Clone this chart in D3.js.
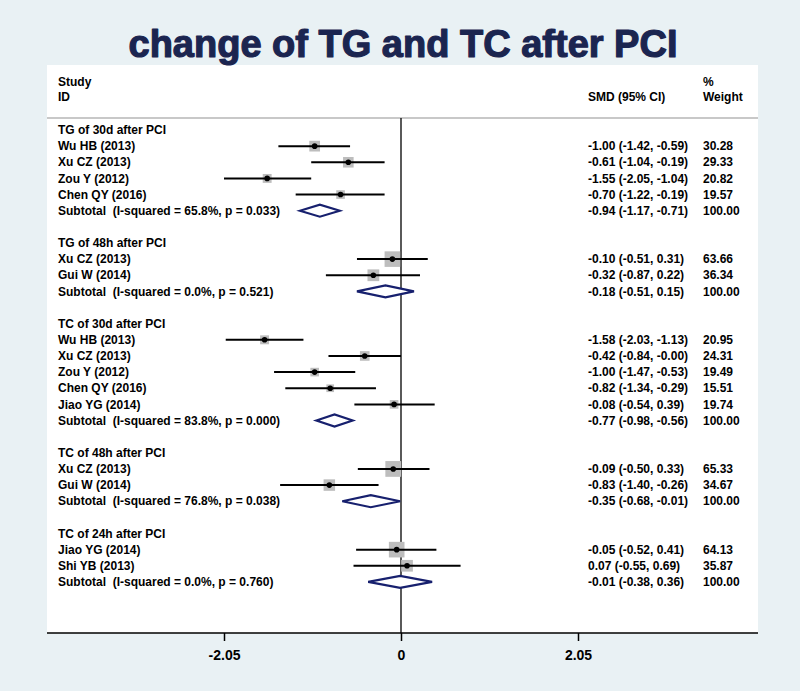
<!DOCTYPE html>
<html>
<head>
<meta charset="utf-8">
<script src="https://cdn.jsdelivr.net/npm/d3@7"></script>
<style>
  html, body { margin: 0; padding: 0; background: #e9f1f4; }
  svg { display: block; }
  text { font-family: "Liberation Sans", Arial, sans-serif; font-weight: bold; white-space: pre; }
</style>
</head>
<body>
<svg id="chart" width="800" height="691"></svg>
<script>
// ---------------- DATA ----------------
const title = "change of TG and TC after PCI";
const groupNames = ["TG of 30d after PCI", "TG of 48h after PCI", "TC of 30d after PCI", "TC of 48h after PCI", "TC of 24h after PCI"];

const studyGroup  = [0, 0, 0, 0, 1, 1, 2, 2, 2, 2, 2, 3, 3, 4, 4];
const studyNames  = ["Wu HB (2013)", "Xu CZ (2013)", "Zou Y (2012)", "Chen QY (2016)",
                     "Xu CZ (2013)", "Gui W (2014)",
                     "Wu HB (2013)", "Xu CZ (2013)", "Zou Y (2012)", "Chen QY (2016)", "Jiao YG (2014)",
                     "Xu CZ (2013)", "Gui W (2014)",
                     "Jiao YG (2014)", "Shi YB (2013)"];
const studySMD    = [-1.00, -0.61, -1.55, -0.70, -0.10, -0.32, -1.58, -0.42, -1.00, -0.82, -0.08, -0.09, -0.83, -0.05, 0.07];
const studyLow    = [-1.42, -1.04, -2.05, -1.22, -0.51, -0.87, -2.03, -0.84, -1.47, -1.34, -0.54, -0.50, -1.40, -0.52, -0.55];
const studyHigh   = [-0.59, -0.19, -1.04, -0.19, 0.31, 0.22, -1.13, -0.00, -0.53, -0.29, 0.39, 0.33, -0.26, 0.41, 0.69];
const studyWeight = [30.28, 29.33, 20.82, 19.57, 63.66, 36.34, 20.95, 24.31, 19.49, 15.51, 19.74, 65.33, 34.67, 64.13, 35.87];

const subI2   = ["65.8%", "0.0%", "83.8%", "76.8%", "0.0%"];
const subP    = ["0.033", "0.521", "0.000", "0.038", "0.760"];
const subSMD  = [-0.94, -0.18, -0.77, -0.35, -0.01];
const subLow  = [-1.17, -0.51, -0.98, -0.68, -0.38];
const subHigh = [-0.71, 0.15, -0.56, -0.01, 0.36];
const subWeight = [100.00, 100.00, 100.00, 100.00, 100.00];

const tickValues = [-2.05, 0, 2.05];
const tickLabels = ["-2.05", "0", "2.05"];

// ---------------- LAYOUT ----------------
const W = 800, H = 691;
const panel = {left: 47, right: 758, top: 65, bottom: 633};
const headerLine = 118;
const textX = 58, ciX = 588, wX = 703;
const row0 = 130, rowStep = 16.14;

const svg = d3.select("#chart");
svg.append("rect").attr("width", W).attr("height", H).attr("fill", "#e9f1f4");
svg.append("rect").attr("x", panel.left).attr("y", panel.top)
  .attr("width", panel.right - panel.left).attr("height", panel.bottom - panel.top)
  .attr("fill", "#ffffff");

svg.append("text").attr("x", 403).attr("y", 57).attr("text-anchor", "middle")
  .attr("font-size", 38).attr("fill", "#1b2550")
  .attr("stroke", "#1b2550").attr("stroke-width", 1.2).attr("stroke-linejoin", "round")
  .text(title);

// Build rows list
const rows = [];
groupNames.forEach((g, gi) => {
  rows.push({type: "group", label: g});
  studyGroup.forEach((sg, i) => {
    if (sg === gi) rows.push({type: "study", label: studyNames[i], est: studySMD[i], lo: studyLow[i], hi: studyHigh[i], w: studyWeight[i]});
  });
  rows.push({type: "sub", label: `Subtotal  (I-squared = ${subI2[gi]}, p = ${subP[gi]})`,
             est: subSMD[gi], lo: subLow[gi], hi: subHigh[gi], w: subWeight[gi]});
  if (gi < groupNames.length - 1) rows.push({type: "blank"});
});

const x = d3.scaleLinear().domain([-4.1, 4.1]).range([panel.left, panel.left + 708]);
const y = d3.scaleLinear().domain([0, 1]).range([row0, row0 + rowStep]);

const fmt = v => ((v < 0 || Object.is(v, -0)) ? "-" : "") + Math.abs(v).toFixed(2);

// Header
const fs = 12;
svg.append("text").attr("x", textX).attr("y", 81.5).attr("dy", "0.35em").attr("font-size", fs).text("Study");
svg.append("text").attr("x", textX).attr("y", 97).attr("dy", "0.35em").attr("font-size", fs).text("ID");
svg.append("text").attr("x", ciX).attr("y", 97).attr("dy", "0.35em").attr("font-size", fs).text("SMD (95% CI)");
svg.append("text").attr("x", wX).attr("y", 81.5).attr("dy", "0.35em").attr("font-size", fs).text("%");
svg.append("text").attr("x", wX).attr("y", 97).attr("dy", "0.35em").attr("font-size", fs).text("Weight");

svg.append("line").attr("x1", panel.left).attr("x2", panel.right)
  .attr("y1", headerLine).attr("y2", headerLine).attr("stroke", "#c8c8c8").attr("stroke-width", 2);

// Zero line
svg.append("line").attr("x1", x(0)).attr("x2", x(0)).attr("y1", headerLine).attr("y2", panel.bottom)
  .attr("stroke", "#000").attr("stroke-width", 1.3);

const g = svg.append("g");
rows.forEach((r, i) => {
  const yy = y(i);
  if (r.type === "blank") return;
  g.append("text").attr("x", textX).attr("y", yy).attr("dy", "0.35em").attr("font-size", fs)
    .attr("xml:space", "preserve").text(r.label);
  if (r.type === "group") return;
  g.append("text").attr("x", ciX).attr("y", yy).attr("dy", "0.35em").attr("font-size", fs)
    .text(`${fmt(r.est)} (${fmt(r.lo)}, ${fmt(r.hi)})`);
  g.append("text").attr("x", wX).attr("y", yy).attr("dy", "0.35em").attr("font-size", fs).text(r.w.toFixed(2));
  if (r.type === "study") {
    const s = 1.95 * Math.sqrt(r.w);
    g.append("rect").attr("x", x(r.est) - s / 2).attr("y", yy - s / 2).attr("width", s).attr("height", s)
      .attr("fill", "#bdbdbd");
    g.append("line").attr("x1", x(r.lo)).attr("x2", x(r.hi)).attr("y1", yy).attr("y2", yy)
      .attr("stroke", "#000").attr("stroke-width", 2);
    g.append("circle").attr("cx", x(r.est)).attr("cy", yy).attr("r", 2.8).attr("fill", "#000");
  } else {
    const h = 6;
    const pts = [[x(r.lo), yy], [x(r.est), yy - h], [x(r.hi), yy], [x(r.est), yy + h]];
    g.append("polygon").attr("points", pts.map(p => p.join(",")).join(" "))
      .attr("fill", "#fff").attr("stroke", "#17206e").attr("stroke-width", 2.2);
  }
});

// Axis
const axis = d3.axisBottom(x).tickValues(tickValues)
  .tickFormat((d, i) => tickLabels[i]).tickSize(8).tickPadding(9);
const ax = svg.append("g").attr("transform", `translate(0,${panel.bottom})`).call(axis);
ax.select(".domain").remove();
ax.selectAll(".tick line").attr("stroke", "#000").attr("stroke-width", 1.5);
ax.selectAll(".tick text").attr("font-size", 14).attr("font-family", "Liberation Sans, Arial, sans-serif")
  .attr("font-weight", "bold").attr("fill", "#000");
svg.append("line").attr("x1", panel.left).attr("x2", panel.right).attr("y1", panel.bottom).attr("y2", panel.bottom)
  .attr("stroke", "#000").attr("stroke-width", 1.5);
</script>
</body>
</html>
